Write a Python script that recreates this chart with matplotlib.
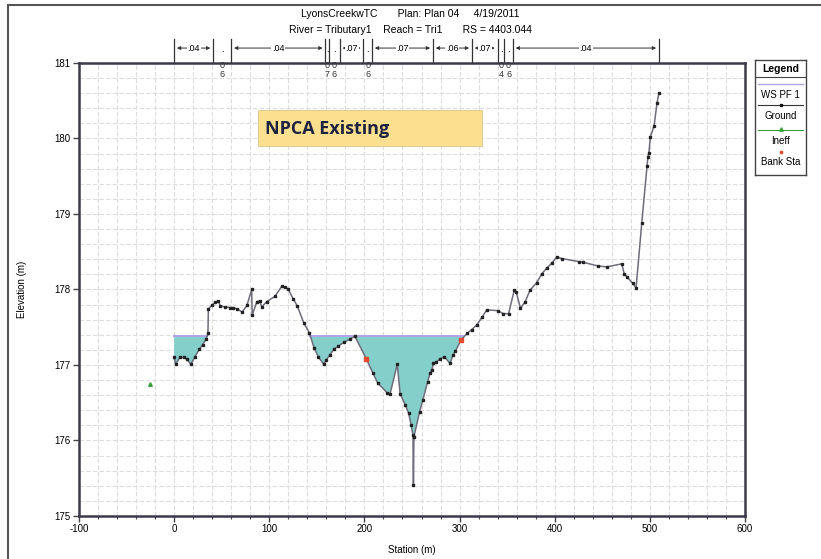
import numpy as np
import matplotlib.pyplot as plt
from matplotlib.patches import Rectangle
from matplotlib.transforms import blended_transform_factory

plt.rcParams['font.family'] = ['Liberation Sans', 'DejaVu Sans']
plt.rcParams['axes.unicode_minus'] = False

# cross section geometry (station m, elevation m)
ground_sta = [0, 1.5, 6, 10, 13, 17.5, 22, 26.5, 30, 34, 35.5, 36, 39.5, 43, 46.5, 48.5,
              53.5, 59, 62, 66.5, 71.5, 76.5, 81.5, 82, 87, 90, 92, 97.5, 106, 113, 117,
              120, 125, 129.5, 136.5, 142, 147, 151.5, 157, 160, 163.5, 168, 172.5, 178.5,
              184.5, 190, 202, 209, 214, 224, 227, 234.5, 237.5, 243, 246.5, 249, 251,
              251.5, 252, 258, 261.5, 266.5, 269, 271, 272.5, 275.5, 279.5, 284, 290, 293,
              295.5, 301.5, 308, 313, 318, 323.5, 328.5, 340, 346, 351.5, 357.5, 359.5,
              364, 369, 374, 381, 386.5, 391.5, 397, 402, 407.5, 425, 430, 446, 455,
              470.5, 473, 476.5, 482, 485.5, 491.5, 497, 498, 499, 500.5, 504.5, 507.5,
              509.5]
ground_elev = [177.10, 177.01, 177.10, 177.10, 177.08, 177.01, 177.11, 177.21, 177.27,
               177.35, 177.42, 177.74, 177.79, 177.83, 177.85, 177.78, 177.77, 177.76,
               177.76, 177.74, 177.70, 177.79, 178.00, 177.66, 177.84, 177.85, 177.77,
               177.84, 177.91, 178.04, 178.03, 178.00, 177.88, 177.78, 177.55, 177.43,
               177.23, 177.11, 177.01, 177.07, 177.13, 177.21, 177.25, 177.30, 177.34,
               177.38, 177.08, 176.89, 176.76, 176.63, 176.62, 177.01, 176.62, 176.47,
               176.36, 176.21, 176.07, 175.41, 176.05, 176.38, 176.54, 176.78, 176.89,
               176.94, 177.02, 177.04, 177.08, 177.11, 177.02, 177.13, 177.18, 177.33,
               177.42, 177.47, 177.53, 177.63, 177.73, 177.72, 177.68, 177.68, 177.99,
               177.97, 177.75, 177.84, 177.99, 178.09, 178.21, 178.28, 178.35, 178.43,
               178.41, 178.37, 178.36, 178.31, 178.30, 178.34, 178.21, 178.16, 178.08,
               178.02, 178.88, 179.63, 179.76, 179.81, 180.02, 180.17, 180.47, 180.60]
ws_elev = 177.38
bank_sta = [202, 301.5]
bank_elev = [177.08, 177.33]
ineff_sta = [-25]
ineff_elev = [176.75]

# Manning's n regions along the top
n_breaks = [0, 41, 60, 159, 163, 174, 199, 208, 272, 313, 340, 347, 356, 509.5]
n_values = [".04", ".06", ".04", ".07", ".06", ".07", ".06", ".07", ".06", ".07", ".04", ".06", ".04"]
n_narrow = [False, True, False, True, True, False, True, False, False, False, True, True, False]

title1 = "LyonsCreekwTC       Plan: Plan 04     4/19/2011"
title2 = "River = Tributary1    Reach = Tri1       RS = 4403.044"

W, H = 821, 559
fig = plt.figure(figsize=(W / 100, H / 100), dpi=100)

# outer frame
fig.patches.append(Rectangle((8 / W, -0.01), 1.0, 1 - 5 / H + 0.01, transform=fig.transFigure,
                             fill=False, ec='#555555', lw=1.5))

ax = fig.add_axes([79 / W, 1 - 516 / H, 666 / W, 453 / H])
sta = np.array(ground_sta, dtype=float)
elev = np.array(ground_elev, dtype=float)

ax.fill_between(sta, elev, ws_elev, where=elev <= ws_elev, interpolate=True,
                color='#84cfca', lw=0, zorder=2)

# water surface drawn over the wet reaches only
wet = elev < ws_elev
edges = []
start = sta[0] if wet[0] else None
for i in range(1, len(sta)):
    if wet[i] != wet[i - 1]:
        xc = sta[i - 1] + (ws_elev - elev[i - 1]) * (sta[i] - sta[i - 1]) / (elev[i] - elev[i - 1])
        if wet[i]:
            start = xc
        else:
            edges.append((start, xc))
for a, b in edges:
    ax.plot([a, b], [ws_elev, ws_elev], color='#b3a6e6', lw=1.5, zorder=3)

ax.plot(sta, elev, color='#6e6c7c', lw=1.1, zorder=4)
ax.plot(sta, elev, ls='none', marker='s', ms=2.0, color='#222222', zorder=5)
ax.plot(bank_sta, bank_elev, ls='none', marker='s', ms=2.4, color='#e8482c', zorder=6)
ax.plot(ineff_sta, ineff_elev, ls='none', marker='^', ms=2.6, color='#3aa03a', zorder=6)

ax.set_xlim(-100, 600)
ax.set_ylim(175, 181)
ax.set_xticks(np.arange(-100, 601, 100))
ax.set_xticks(np.arange(-100, 601, 20), minor=True)
ax.set_yticks(np.arange(175, 181.1, 1))
ax.set_yticks(np.arange(175, 181.01, 0.2), minor=True)
ax.grid(True, which='both', color='#dcdcdc', lw=0.8, ls=(0, (4, 2)), zorder=0)
ax.tick_params(which='major', labelsize=7, length=4, width=1, color='#444444', pad=2)
ax.tick_params(which='minor', length=2.5, width=0.8, color='#444444')
ax.tick_params(axis='y', which='minor', length=0)
for s in ax.spines.values():
    s.set_color('#3a3a4a')
    s.set_linewidth(1.8)
ax.set_xlabel('Station (m)', fontsize=7, labelpad=8)
ax.set_ylabel('Elevation (m)', fontsize=7, labelpad=20)

# n-value bar above the axes
tr = blended_transform_factory(ax.transData, ax.transAxes)
for b in n_breaks:
    ax.plot([b, b], [1.0, 1.052], transform=tr, color='#333333', lw=0.9, clip_on=False)
for i, lab in enumerate(n_values):
    a, b = n_breaks[i], n_breaks[i + 1]
    mid = (a + b) / 2
    if n_narrow[i]:
        ax.text(mid, 1.02, '.', transform=tr, fontsize=6.5, ha='center', va='bottom')
        ax.text(mid, 1.004, lab[1] + '\n' + lab[2], transform=tr, fontsize=6.5,
                ha='center', va='top', linespacing=1.0, color='#333333')
    else:
        ax.text(mid, 1.033, lab, transform=tr, fontsize=6.5, ha='center', va='center',
                bbox=dict(fc='white', ec='none', pad=0.5), zorder=5)
        ax.annotate('', xy=(a, 1.033), xytext=(mid, 1.033), xycoords=tr, textcoords=tr,
                    arrowprops=dict(arrowstyle='-|>', color='#333333', lw=0.7,
                                    mutation_scale=5), annotation_clip=False)
        ax.annotate('', xy=(b, 1.033), xytext=(mid, 1.033), xycoords=tr, textcoords=tr,
                    arrowprops=dict(arrowstyle='-|>', color='#333333', lw=0.7,
                                    mutation_scale=5), annotation_clip=False)

fig.text(410 / W, 1 - 14 / H, title1, fontsize=7.5, ha='center', va='center')
fig.text(410 / W, 1 - 30 / H, title2, fontsize=7.5, ha='center', va='center')

# label box
fig.patches.append(Rectangle((258 / W, 1 - 146 / H), 224 / W, 36 / H, transform=fig.transFigure,
                             fc='#fde08f', ec='#d8c48a', lw=0.6, zorder=10))
fig.text(265 / W, 1 - 129 / H, 'NPCA Existing', fontsize=13, fontweight='bold',
         family='Open Sans', color='#1c2340', ha='left', va='center', zorder=11)

# legend panel
lax = fig.add_axes([755 / W, 1 - 175 / H, 51 / W, 115 / H])
lax.set_xlim(0, 51)
lax.set_ylim(115, 0)
lax.set_xticks([])
lax.set_yticks([])
for s in lax.spines.values():
    s.set_color('#444444')
    s.set_linewidth(1.0)
lax.text(25.5, 9, 'Legend', fontsize=7.5, fontweight='bold', ha='center', va='center')
lax.plot([0, 51], [17, 17], color='#444444', lw=0.8)
lax.plot([3, 48], [24, 24], color='#b3a6e6', lw=1.0)
lax.text(25.5, 35, 'WS PF 1', fontsize=7, ha='center', va='center')
lax.plot([3, 48], [45, 45], color='#333333', lw=0.8)
lax.plot([25.5], [45], marker='s', ms=2.0, color='#111111')
lax.text(25.5, 56, 'Ground', fontsize=7, ha='center', va='center')
lax.plot([3, 48], [70, 70], color='#3aa03a', lw=0.8)
lax.plot([25.5], [69], marker='^', ms=2.5, color='#3aa03a')
lax.text(25.5, 81, 'Ineff', fontsize=7, ha='center', va='center')
lax.plot([25.5], [92], marker='s', ms=2.0, color='#e8482c')
lax.text(25.5, 102, 'Bank Sta', fontsize=7, ha='center', va='center')

fig.savefig('out.png', dpi=100)
